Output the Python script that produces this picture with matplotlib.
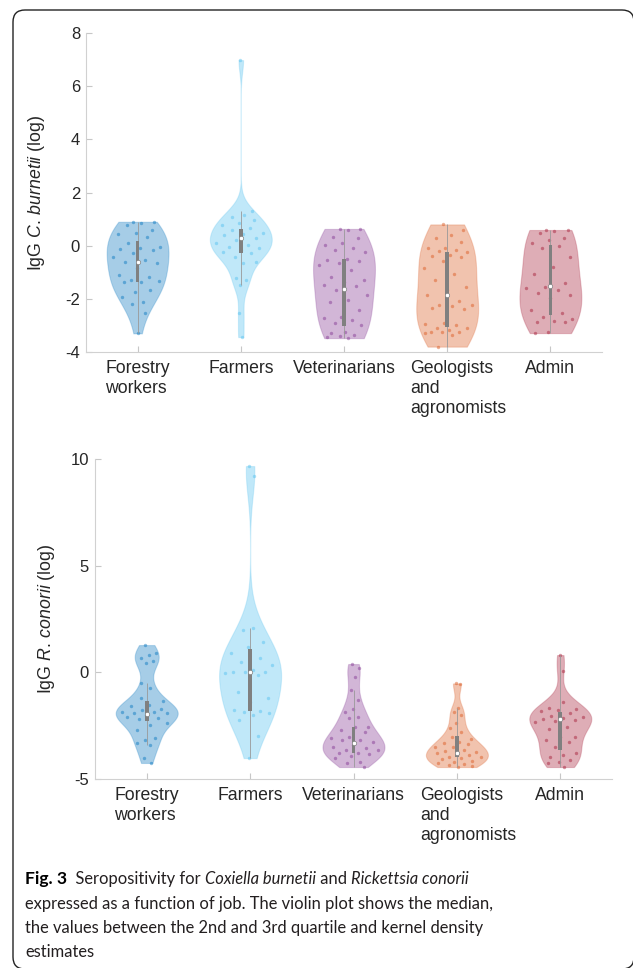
import numpy as np
import matplotlib
matplotlib.use('Agg')
import matplotlib.pyplot as plt
from matplotlib import mlab, cbook
from matplotlib.patches import FancyBboxPatch
from matplotlib.transforms import ScaledTranslation

plt.rcParams['font.family'] = 'Liberation Sans'
plt.rcParams['axes.unicode_minus'] = False
plt.rcParams['mathtext.fontset'] = 'custom'
plt.rcParams['mathtext.rm'] = 'Liberation Sans'
plt.rcParams['mathtext.it'] = 'Liberation Sans:italic'

jobs = ['Forestry\nworkers', 'Farmers', 'Veterinarians', 'Geologists\nand\nagronomists', 'Admin']
colors = [(0, .447, .741), (.301, .745, .933), (.494, .184, .556), (.85, .325, .098), (.635, .078, .184)]

# IgG C. burnetii (log)
cb_forestry = [0.90, 0.88, 0.84, 0.78, 0.59, 0.49, 0.44, 0.34, 0.09, -0.04, -0.10, -0.14, -0.16, -0.26,
               -0.41, -0.54, -0.60, -0.66, -0.85, -1.10, -1.17, -1.29, -1.33, -1.35, -1.36, -1.67, -1.73,
               -1.92, -2.11, -2.20, -2.55, -3.30]
cb_farmers = [6.98, 1.30, 1.15, 1.09, 0.95, 0.84, 0.78, 0.65, 0.59, 0.46, 0.44, 0.40, 0.28, 0.21, 0.09,
              0.02, -0.04, -0.10, -0.16, -0.23, -0.29, -0.41, -0.60, -0.66, -1.23, -1.29, -1.48, -2.55, -3.44]
cb_vets = [0.63, 0.61, 0.60, 0.34, 0.28, 0.09, 0.02, -0.10, -0.16, -0.23, -0.52, -0.54, -0.56, -0.66, -0.73,
           -0.92, -1.17, -1.29, -1.36, -1.48, -1.50, -1.67, -1.86, -2.05, -2.11, -2.42, -2.67, -2.73, -2.80,
           -2.92, -2.99, -3.24, -3.30, -3.36, -3.40, -3.42, -3.48]
cb_geo = [0.80, 0.59, 0.40, 0.27, 0.15, -0.08, -0.10, -0.16, -0.20, -0.23, -0.35, -0.38, -0.42, -0.58, -0.85,
          -1.08, -1.29, -1.54, -1.67, -1.86, -2.08, -2.23, -2.23, -2.26, -2.36, -2.38, -2.92, -2.96, -2.98,
          -3.11, -3.11, -3.17, -3.24, -3.24, -3.26, -3.30, -3.36, -3.80]
cb_admin = [0.59, 0.58, 0.55, 0.46, 0.27, 0.21, 0.09, 0.00, -0.08, -0.42, -0.79, -1.08, -1.42, -1.54, -1.61,
            -1.67, -1.79, -1.86, -1.98, -2.42, -2.55, -2.67, -2.76, -2.83, -2.86, -2.88, -3.24, -3.29]
cb_q3 = [0.18, 0.63, -0.50, -0.24, 0.02]
cb_median = [-0.62, 0.30, -1.63, -1.86, -1.52]
cb_q1 = [-1.37, -0.28, -3.02, -3.05, -2.61]
cb_lo = [-3.30, -1.48, -3.48, -3.80, -3.29]
cb_hi = [0.90, 1.30, 0.63, 0.80, 0.59]

# IgG R. conorii (log)
rc_forestry = [1.28, 0.89, 0.81, 0.65, 0.55, 0.42, -0.52, -0.75, -1.22, -1.33, -1.53, -1.58, -1.74,
               -1.77, -1.85, -1.85, -1.89, -1.92, -2.00, -2.08, -2.16, -2.20, -2.39, -2.47, -2.70, -3.10,
               -3.17, -3.33, -3.41, -4.03, -4.25]
rc_farmers = [9.67, 9.20, 2.10, 2.00, 1.44, 1.20, 0.89, 0.65, 0.50, 0.34, 0.10, 0.03, 0.03, 0.03, -0.02,
              -0.13, -0.91, -1.22, -1.38, -1.77, -1.80, -1.85, -1.92, -2.00, -2.24, -3.00, -4.02]
rc_vets = [0.39, 0.19, -0.20, -0.83, -1.30, -1.74, -1.85, -2.08, -2.16, -2.55, -2.55, -2.70, -2.78, -3.02,
           -3.10, -3.17, -3.17, -3.25, -3.41, -3.49, -3.56, -3.64, -3.64, -3.77, -3.80, -3.83, -3.92, -4.03,
           -4.19, -4.27, -4.44]
rc_geo = [-0.52, -0.55, -1.69, -1.85, -2.00, -2.39, -2.63, -2.78, -3.02, -3.14, -3.25, -3.33, -3.36, -3.49,
          -3.52, -3.64, -3.67, -3.72, -3.72, -3.80, -3.88, -3.95, -3.99, -4.03, -4.08, -4.14, -4.19, -4.27,
          -4.30, -4.35, -4.39, -4.44]
rc_admin = [0.81, 0.08, -1.38, -1.69, -1.74, -1.77, -1.80, -1.92, -2.05, -2.11, -2.16, -2.20, -2.24, -2.27,
            -2.31, -2.55, -2.67, -3.02, -3.05, -3.17, -3.25, -3.49, -3.80, -3.88, -3.95, -4.11, -4.19, -4.27,
            -4.44]
rc_q3 = [-1.35, 1.09, -2.55, -2.97, -1.85]
rc_median = [-1.95, 0.03, -3.33, -3.77, -2.20]
rc_q1 = [-2.30, -1.80, -3.80, -3.95, -3.64]
rc_lo = [-3.41, -4.02, -4.44, -4.44, -4.44]
rc_hi = [-0.52, 2.10, -0.83, -1.69, 0.81]

W, H = 633, 968
fig = plt.figure(figsize=(W / 100, H / 100), dpi=100)


def bandwidth(x):
    # same rule as MATLAB ksdensity (robust sigma)
    sig = np.median(np.abs(x - np.median(x))) / 0.6745
    return sig * (4 / (3 * len(x))) ** 0.2


def kde(x, coords):
    x = np.asarray(x, float)
    k = mlab.GaussianKDE(x, bw_method=lambda _: bandwidth(x) / np.std(x, ddof=1))
    return k.evaluate(coords)


def panel(rect, groups, q1, med, q3, lo, hi, ylim, yticks, ylabel, lab_x):
    ax = fig.add_axes(rect)
    pos = np.arange(1, 6)
    stats = cbook.violin_stats(groups, kde, points=400)
    parts = ax.violin(stats, positions=pos, widths=0.6, showextrema=False)
    for body, c in zip(parts['bodies'], colors):
        body.set_alpha(None)
        body.set_facecolor((*c, 0.35))
        body.set_edgecolor((*c, 0.22))
        body.set_linewidth(0.8)
        body.set_zorder(1)
    for i, (vals, st) in enumerate(zip(groups, stats)):
        vals = np.asarray(vals)
        half = 0.3 * np.interp(vals, st['coords'], st['vals']) / np.max(st['vals'])
        frac = (np.arange(len(vals)) * 0.618034 + 0.37) % 1
        ax.scatter(pos[i] + (2 * frac - 1) * 0.85 * half, vals, s=6, color=colors[i],
                   alpha=0.45, linewidths=0, zorder=2)
    ax.vlines(pos, lo, hi, color='0.6', lw=0.6, zorder=3)
    ax.bar(pos, np.subtract(q3, q1), bottom=q1, width=0.036, color='0.5', zorder=4)
    ax.scatter(pos, med, s=10, facecolor='white', edgecolor='0.5', linewidths=0.5, zorder=5)

    ax.set_xlim(0.5, 5.5)
    ax.set_ylim(*ylim)
    ax.set_yticks(yticks)
    ax.set_xticks(pos, jobs)
    for s in ('top', 'right'):
        ax.spines[s].set_visible(False)
    for s in ('left', 'bottom'):
        ax.spines[s].set_color('0.82')
        ax.spines[s].set_linewidth(0.8)
    ax.tick_params(direction='in', length=4, width=0.8, color='0.78', labelcolor='0.15')
    ax.tick_params(axis='y', labelsize=12, pad=4.3)
    ax.tick_params(axis='x', labelsize=12.7, pad=6)
    for lab in ax.get_xticklabels():
        lab.set_multialignment('left')
    geo = ax.get_xticklabels()[3]
    geo.set_transform(geo.get_transform() + ScaledTranslation(0.11, 0, fig.dpi_scale_trans))
    ax.set_ylabel(ylabel, fontsize=12.8, color='0.15')
    ax.yaxis.set_label_coords(lab_x, 0.5)
    return ax


panel([86 / W, 1 - 352 / H, 516 / W, 319 / H],
      [cb_forestry, cb_farmers, cb_vets, cb_geo, cb_admin],
      cb_q1, cb_median, cb_q3, cb_lo, cb_hi, (-4, 8), range(-4, 9, 2),
      r'IgG $\mathit{C.\,burnetii}$ (log)', -0.076)
panel([95 / W, 1 - 779 / H, 517 / W, 320 / H],
      [rc_forestry, rc_farmers, rc_vets, rc_geo, rc_admin],
      rc_q1, rc_median, rc_q3, rc_lo, rc_hi, (-5, 10), [-5, 0, 5, 10],
      r'IgG $\mathit{R.\,conorii}$ (log)', -0.0735)

# caption, built piece by piece for mixed styles
renderer = fig.canvas.get_renderer()
cap = dict(family='Lato', size=11.9, color='#231f20')


def width(s, **kw):
    t = fig.text(0, 0, s + '.', **kw)
    d = fig.text(0, 0, '.', **kw)
    w = t.get_window_extent(renderer).width - d.get_window_extent(renderer).width
    t.remove()
    d.remove()
    return w


def caption_line(pieces, y):
    x = 25
    for s, extra in pieces:
        kw = {**cap, **extra}
        fig.text(x / W, 1 - y / H, s, va='baseline', **kw)
        x += width(s, **kw)


caption_line([('Fig. 3', dict(weight='bold', color='black', size=12.6)), ('  Seropositivity for ', {}),
              ('Coxiella burnetii', dict(style='italic')), (' and ', {}),
              ('Rickettsia conorii', dict(style='italic'))], 884)
caption_line([('expressed as a function of job. The violin plot shows the median,', {})], 909)
caption_line([('the values between the 2nd and 3rd quartile and kernel density', {})], 933)
caption_line([('estimates', {})], 957)

fig.add_artist(FancyBboxPatch((0.13, -0.01), 6.21, 9.59, boxstyle='round,pad=0,rounding_size=0.12',
                              transform=fig.dpi_scale_trans, fill=False, lw=1.0, ec='#222222'))

fig.savefig('out.png', dpi=100)
